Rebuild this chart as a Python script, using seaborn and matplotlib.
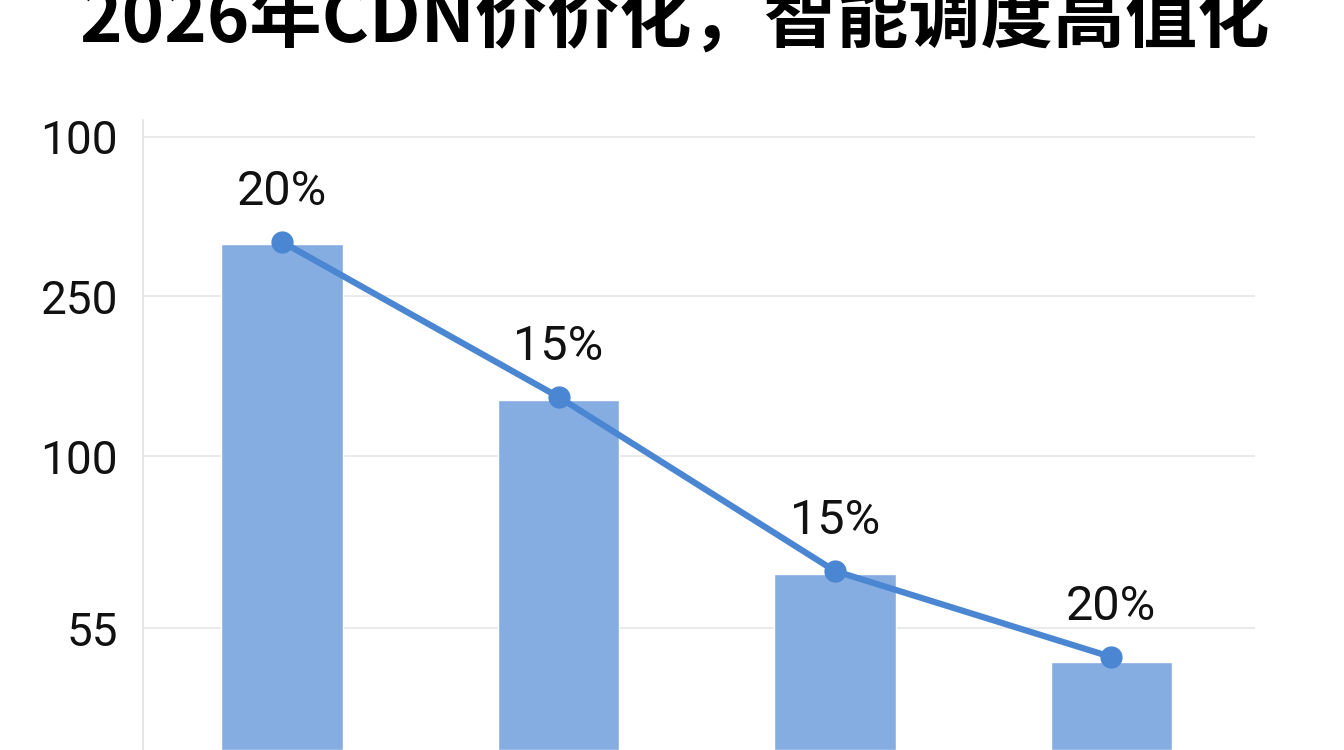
import numpy as np
import matplotlib
matplotlib.use("Agg")
import matplotlib.pyplot as plt
import seaborn as sns

# chart data (value axis is an unlabelled index scale; tick labels as printed in the source)
categories = ["Q1", "Q2", "Q3", "Q4"]
bar_values = [506, 350, 176, 88]
trend_values = [508, 353, 179, 93]
trend_labels = ["20%", "15%", "15%", "20%"]
grid_levels = [613, 454, 294, 122]
grid_labels = ["100", "250", "100", "55"]
title = "2026年CDN价价化，智能调度高值化"

sns.set_theme(style="white")
plt.rcParams["font.family"] = ["Roboto", "Noto Sans CJK SC", "DejaVu Sans"]

bar_color = "#86ade2"
line_color = "#4a86d2"

fig = plt.figure(figsize=(13.44, 7.5), dpi=100)
ax = fig.add_axes([143 / 1344, 0.0, (1255 - 143) / 1344, 630 / 750])

sns.barplot(x=categories, y=bar_values, color=bar_color, saturation=1,
            width=0.44, ax=ax)
ax.plot(np.arange(len(categories)), trend_values, color=line_color,
        linewidth=4.5, marker="o", markersize=15, zorder=3)

for i, (v, lab) in enumerate(zip(trend_values, trend_labels)):
    ax.annotate(lab, (i, v), xytext=(0, 36), textcoords="offset points",
                ha="center", va="center", fontsize=35, color="#111111")

ax.set_xlim(-0.504, 3.52)
ax.set_ylim(0, 630)
ax.set_yticks(grid_levels, labels=grid_labels)
ax.tick_params(axis="y", length=0, pad=18, labelsize=33, labelcolor="#111111")
ax.tick_params(axis="x", length=0, labelbottom=False)
ax.set_xlabel("")
ax.set_ylabel("")
ax.grid(axis="y", color="#e6e6e6", linewidth=1.2)
ax.set_axisbelow(True)
for s in ["top", "right", "bottom"]:
    ax.spines[s].set_visible(False)
ax.spines["left"].set_color("#e2e2e2")
ax.spines["left"].set_linewidth(1.2)

# title runs off the top edge, as in the source image
fig.text(675 / 1344, 1 - 43 / 750, title, ha="center", va="baseline",
         fontsize=52, fontweight="heavy", color="black",
         family=["Noto Sans CJK SC", "DejaVu Sans"])

fig.savefig("out.png", dpi=100)
